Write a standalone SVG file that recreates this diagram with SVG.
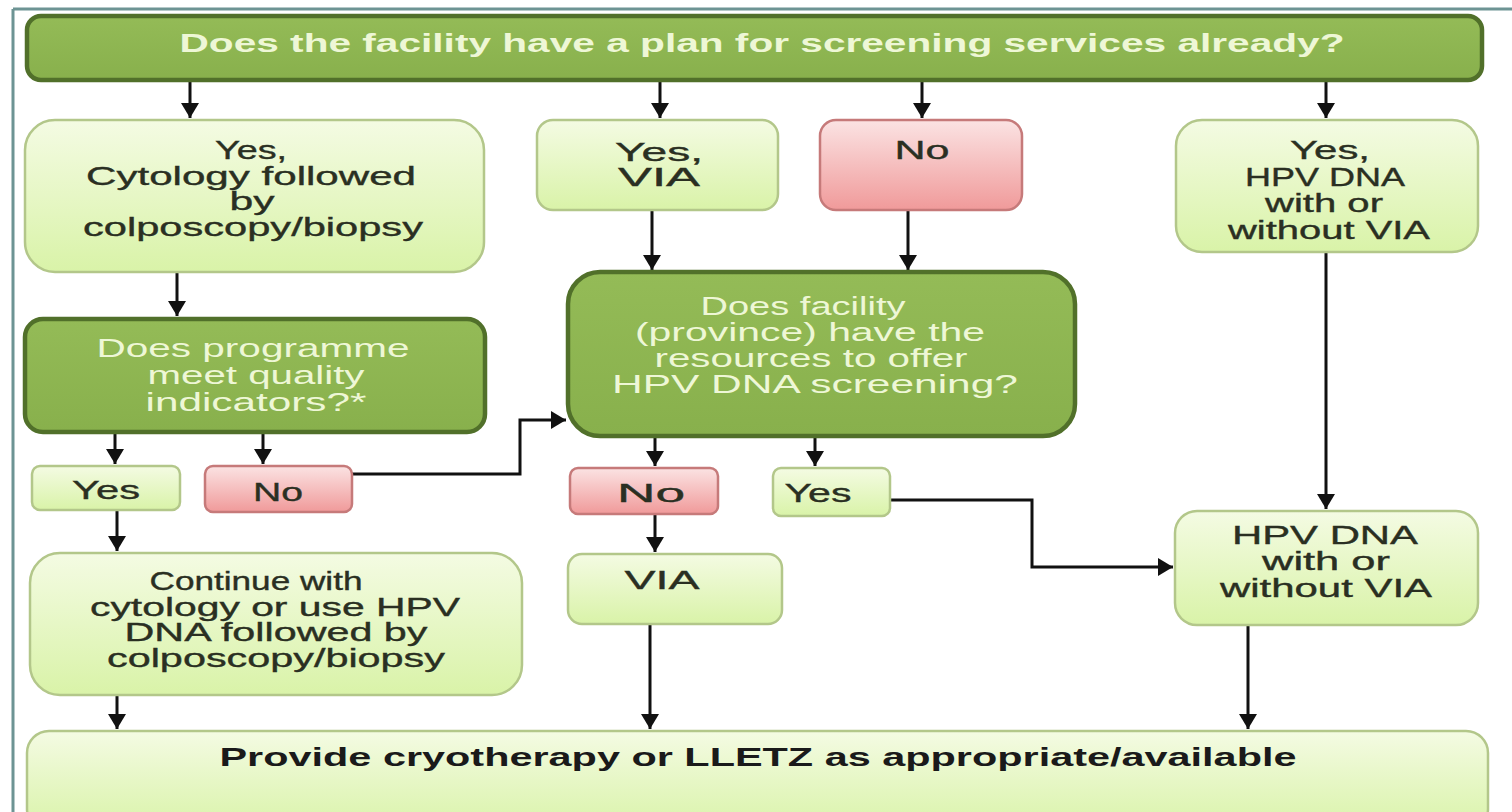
<svg xmlns="http://www.w3.org/2000/svg" width="1512" height="812" viewBox="0 0 1512 812">
<defs>
<linearGradient id="gLight" x1="0" y1="0" x2="0" y2="1">
<stop offset="0" stop-color="#f4fbe3"/>
<stop offset="1" stop-color="#d9f3a8"/>
</linearGradient>
<linearGradient id="gRed" x1="0" y1="0" x2="0" y2="1">
<stop offset="0" stop-color="#fbe3e3"/>
<stop offset="1" stop-color="#f09a9a"/>
</linearGradient>
<linearGradient id="gDark" x1="0" y1="0" x2="0" y2="1">
<stop offset="0" stop-color="#94bb57"/>
<stop offset="1" stop-color="#88b04c"/>
</linearGradient>
<marker id="arr" markerUnits="userSpaceOnUse" markerWidth="15" markerHeight="18" refX="15" refY="9" orient="auto">
<path d="M0,0 L15,9 L0,18 Z" fill="#111"/>
</marker>
<style>
.light{fill:url(#gLight);stroke:#b3c78a;stroke-width:2.5}
.red{fill:url(#gRed);stroke:#c67a7a;stroke-width:2.5}
.dark{fill:url(#gDark);stroke:#51702a;stroke-width:4.5}
.t{font-family:"Liberation Sans",Arial,sans-serif;font-size:25px;fill:#2a2f22;stroke:#2a2f22;stroke-width:0.35;text-anchor:middle}
.tw{font-family:"Liberation Sans",Arial,sans-serif;font-size:25px;fill:#eef7d6;text-anchor:middle}
.b{font-weight:bold}
.c{fill:none;stroke:#111;stroke-width:3}
</style>
</defs>
<rect x="0" y="0" width="1512" height="812" fill="#ffffff"/>
<g id="frame">
<line x1="13" y1="9" x2="1512" y2="9" stroke="#6d9494" stroke-width="3"/>
<line x1="13" y1="9" x2="13" y2="812" stroke="#6d9494" stroke-width="3"/>
</g>
<g id="connectors">
<line class="c" x1="190" y1="80" x2="190" y2="118" marker-end="url(#arr)"/>
<line class="c" x1="660" y1="80" x2="660" y2="118" marker-end="url(#arr)"/>
<line class="c" x1="922" y1="80" x2="922" y2="118" marker-end="url(#arr)"/>
<line class="c" x1="1326" y1="80" x2="1326" y2="118" marker-end="url(#arr)"/>
<line class="c" x1="177" y1="272" x2="177" y2="316" marker-end="url(#arr)"/>
<line class="c" x1="652" y1="210" x2="652" y2="270" marker-end="url(#arr)"/>
<line class="c" x1="908" y1="210" x2="908" y2="270" marker-end="url(#arr)"/>
<line class="c" x1="1326" y1="252" x2="1326" y2="509" marker-end="url(#arr)"/>
<line class="c" x1="115" y1="432" x2="115" y2="464" marker-end="url(#arr)"/>
<line class="c" x1="263" y1="432" x2="263" y2="464" marker-end="url(#arr)"/>
<polyline class="c" points="352,474 520,474 520,420 566,420" marker-end="url(#arr)"/>
<line class="c" x1="117" y1="510" x2="117" y2="551" marker-end="url(#arr)"/>
<line class="c" x1="117" y1="695" x2="117" y2="729" marker-end="url(#arr)"/>
<line class="c" x1="655" y1="436" x2="655" y2="466" marker-end="url(#arr)"/>
<line class="c" x1="815" y1="436" x2="815" y2="466" marker-end="url(#arr)"/>
<polyline class="c" points="890,500 1032,500 1032,567 1173,567" marker-end="url(#arr)"/>
<line class="c" x1="655" y1="514" x2="655" y2="552" marker-end="url(#arr)"/>
<line class="c" x1="650" y1="624" x2="650" y2="729" marker-end="url(#arr)"/>
<line class="c" x1="1248" y1="625" x2="1248" y2="729" marker-end="url(#arr)"/>
</g>
<g id="n-top">
<rect class="dark" x="27" y="16" width="1455" height="64" rx="14"/>
<text class="tw b" x="762" y="52" textLength="1165" lengthAdjust="spacingAndGlyphs">Does the facility have a plan for screening services already?</text>
</g>
<g id="n-cytology">
<rect class="light" x="25" y="120" width="459" height="152" rx="30"/>
<text class="t" x="251" y="159" textLength="72" lengthAdjust="spacingAndGlyphs">Yes,</text>
<text class="t" x="251" y="185" textLength="330" lengthAdjust="spacingAndGlyphs">Cytology followed</text>
<text class="t" x="252" y="210" textLength="45" lengthAdjust="spacingAndGlyphs">by</text>
<text class="t" x="253" y="236" textLength="340" lengthAdjust="spacingAndGlyphs">colposcopy/biopsy</text>
</g>
<g id="n-via-yes">
<rect class="light" x="537" y="120" width="241" height="90" rx="16"/>
<text class="t" x="659" y="161" textLength="88" lengthAdjust="spacingAndGlyphs">Yes,</text>
<text class="t" x="659" y="186" textLength="82" lengthAdjust="spacingAndGlyphs">VIA</text>
</g>
<g id="n-no-top">
<rect class="red" x="820" y="120" width="202" height="90" rx="16"/>
<text class="t" x="922" y="159" textLength="55" lengthAdjust="spacingAndGlyphs">No</text>
</g>
<g id="n-hpv-yes">
<rect class="light" x="1176" y="120" width="302" height="132" rx="26"/>
<text class="t" x="1330" y="159" textLength="80" lengthAdjust="spacingAndGlyphs">Yes,</text>
<text class="t" x="1325" y="186" textLength="160" lengthAdjust="spacingAndGlyphs">HPV DNA</text>
<text class="t" x="1324" y="212" textLength="118" lengthAdjust="spacingAndGlyphs">with or</text>
<text class="t" x="1329" y="239" textLength="202" lengthAdjust="spacingAndGlyphs">without VIA</text>
</g>
<g id="n-programme">
<rect class="dark" x="25" y="319" width="460" height="113" rx="18"/>
<text class="tw" x="253" y="357" textLength="313" lengthAdjust="spacingAndGlyphs">Does programme</text>
<text class="tw" x="256" y="384" textLength="217" lengthAdjust="spacingAndGlyphs">meet quality</text>
<text class="tw" x="256" y="411" textLength="221" lengthAdjust="spacingAndGlyphs">indicators?*</text>
</g>
<g id="n-resources">
<rect class="dark" x="568" y="272" width="507" height="164" rx="32"/>
<text class="tw" x="803" y="315" textLength="205" lengthAdjust="spacingAndGlyphs">Does facility</text>
<text class="tw" x="810" y="341" textLength="350" lengthAdjust="spacingAndGlyphs">(province) have the</text>
<text class="tw" x="811" y="367" textLength="313" lengthAdjust="spacingAndGlyphs">resources to offer</text>
<text class="tw" x="815" y="393" textLength="406" lengthAdjust="spacingAndGlyphs">HPV DNA screening?</text>
</g>
<g id="n-yes-q">
<rect class="light" x="32" y="466" width="148" height="44" rx="8"/>
<text class="t" x="106" y="499" textLength="68" lengthAdjust="spacingAndGlyphs">Yes</text>
</g>
<g id="n-no-q">
<rect class="red" x="205" y="466" width="147" height="46" rx="8"/>
<text class="t" x="278" y="501" textLength="50" lengthAdjust="spacingAndGlyphs">No</text>
</g>
<g id="n-no-res">
<rect class="red" x="570" y="468" width="148" height="46" rx="8"/>
<text class="t" x="651" y="502" textLength="68" lengthAdjust="spacingAndGlyphs">No</text>
</g>
<g id="n-yes-res">
<rect class="light" x="773" y="468" width="117" height="48" rx="8"/>
<text class="t" x="818" y="502" textLength="67" lengthAdjust="spacingAndGlyphs">Yes</text>
</g>
<g id="n-continue">
<rect class="light" x="30" y="553" width="492" height="142" rx="30"/>
<text class="t" x="256" y="590" textLength="213" lengthAdjust="spacingAndGlyphs">Continue with</text>
<text class="t" x="275" y="616" textLength="370" lengthAdjust="spacingAndGlyphs">cytology or use HPV</text>
<text class="t" x="276" y="641" textLength="303" lengthAdjust="spacingAndGlyphs">DNA followed by</text>
<text class="t" x="276" y="667" textLength="338" lengthAdjust="spacingAndGlyphs">colposcopy/biopsy</text>
</g>
<g id="n-via">
<rect class="light" x="568" y="554" width="214" height="70" rx="14"/>
<text class="t" x="662" y="589" textLength="75" lengthAdjust="spacingAndGlyphs">VIA</text>
</g>
<g id="n-hpv">
<rect class="light" x="1175" y="511" width="303" height="114" rx="22"/>
<text class="t" x="1325" y="544" textLength="186" lengthAdjust="spacingAndGlyphs">HPV DNA</text>
<text class="t" x="1326" y="570" textLength="128" lengthAdjust="spacingAndGlyphs">with or</text>
<text class="t" x="1326" y="597" textLength="212" lengthAdjust="spacingAndGlyphs">without VIA</text>
</g>
<g id="n-provide">
<rect class="light" x="27" y="731" width="1461" height="100" rx="22"/>
<text class="t b" x="758" y="766" style="fill:#1a1a1a;stroke:none" textLength="1077" lengthAdjust="spacingAndGlyphs">Provide cryotherapy or LLETZ as appropriate/available</text>
</g>
</svg>
